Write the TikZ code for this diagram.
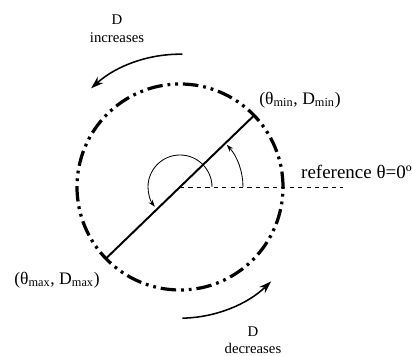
\documentclass[tikz,border=0pt]{standalone}
\usepackage{fontspec}
\setmainfont{Liberation Serif}
\usetikzlibrary{positioning,calc,arrows.meta}

\begin{document}
\begin{tikzpicture}[every node/.style={font=\fontsize{12.5}{14}\selectfont},
    rim/.style={line width=2.3pt, dash pattern=on 11pt off 3.5pt on 2pt off 3.5pt on 2pt off 3.5pt},
    turn/.style={line width=1.1pt, -{Stealth[length=9pt,width=6pt]}},
    sweep/.style={line width=0.6pt, -{Stealth[length=5pt,width=3.5pt]}},
    note/.style={font=\fontsize{10.5}{12.5}\selectfont, align=center}]
  \useasboundingbox (-4.5,-4.225) rectangle (5.8,4.675);
  \coordinate (O) at (0,0);
  \coordinate (pmin) at (44:2.575);
  \coordinate (pmax) at (224:2.575);
  \coordinate (refend) at (4.075,0);
  \draw[rim] (O) circle[radius=2.575];
  \draw[dashed, line width=0.5pt] (O) -- (refend);
  \draw[line width=1.4pt] (pmax) -- (pmin);
  \draw[sweep] ([shift={(0:1.575)}]O) arc[start angle=0, end angle=42, radius=1.575];
  \draw[sweep] ([shift={(0:0.8)}]O) arc[start angle=0, end angle=218, radius=0.8];
  \draw[turn] ([shift={(89:3.32)}]O) arc[start angle=89, end angle=132, radius=3.32];
  \draw[turn] ([shift={(-89:3.28)}]O) arc[start angle=-89, end angle=-46, radius=3.28];
  \node (lmin) at (3.0,2.175) {(θ\textsubscript{min}, D\textsubscript{min})};
  \node (lmax) at (-3.075,-2.325) {(θ\textsubscript{max}, D\textsubscript{max})};
  \node[font=\fontsize{13.5}{15}\selectfont, anchor=east, inner xsep=0pt] (lref) at (5.8,0.375) {reference θ=0º};
  \node[note] (inc) at (-1.575,3.96) {D\\increases};
  \node[note] (dec) at (1.825,-3.83) {D\\decreases};
\end{tikzpicture}
\end{document}
